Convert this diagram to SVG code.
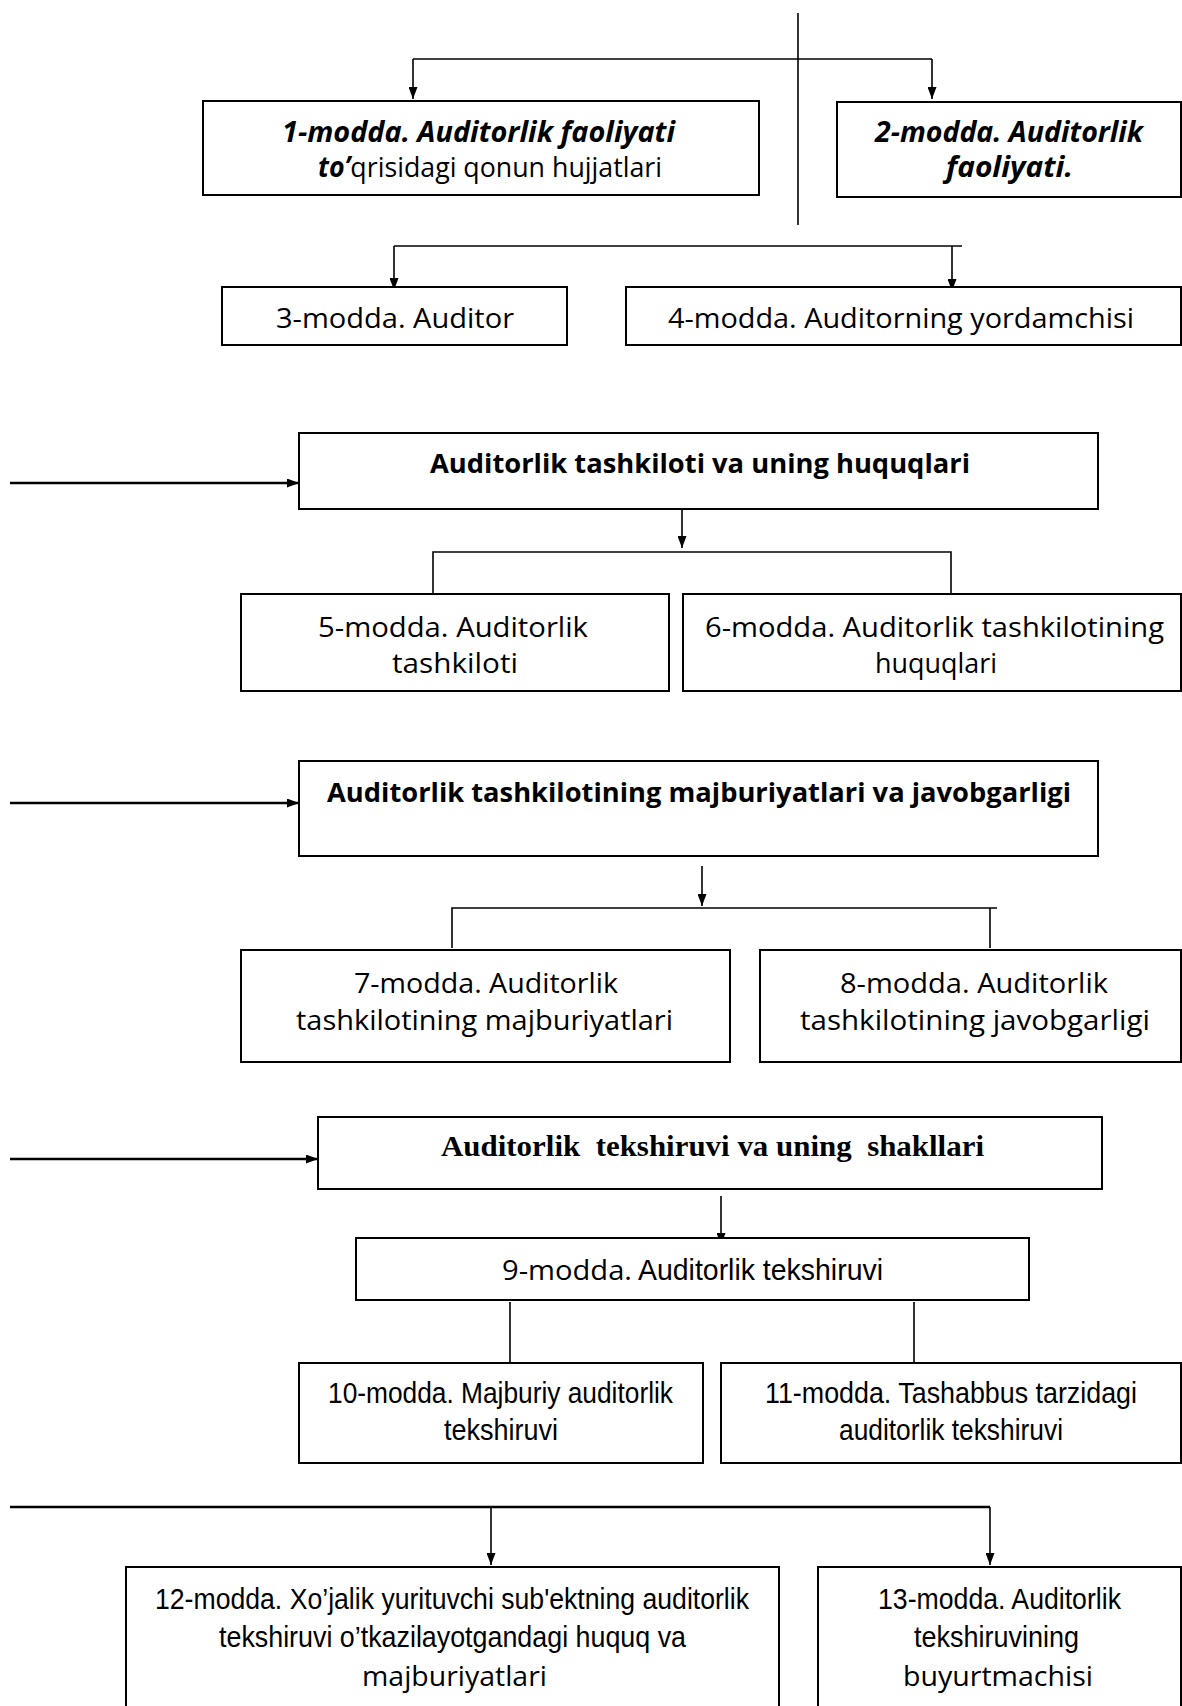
<svg xmlns="http://www.w3.org/2000/svg" width="1182" height="1706" viewBox="0 0 1182 1706">
<defs>
<marker id="ah" markerUnits="userSpaceOnUse" markerWidth="12" markerHeight="9" refX="12" refY="4.5" orient="auto" viewBox="0 0 12 9">
<path d="M0,0 L12,4.5 L0,9 z" fill="#000"/>
</marker>
<style>
.box{fill:#fff;stroke:#000;stroke-width:2}
.c{fill:none;stroke:#000;stroke-width:1.6}
.ct{fill:none;stroke:#000;stroke-width:2.6}
.t{font-family:"Open Sans","Noto Sans",sans-serif;font-size:28px;fill:#000}
.b{font-family:"Open Sans","Noto Sans",sans-serif;font-size:27px;font-weight:bold;fill:#000}
.bi{font-weight:bold;font-style:italic}
.n{font-family:"Liberation Sans Narrow","Liberation Sans",sans-serif;font-size:29px;fill:#000}
.s{font-family:"Liberation Serif",serif;font-size:30px;font-weight:bold;fill:#000;white-space:pre}
</style>
</defs>
<rect width="1182" height="1706" fill="#fff"/>
<g id="connectors">
<line class="c" x1="798" y1="13" x2="798" y2="225"/>
<path class="c" d="M413,59 H932"/>
<line class="c" x1="413" y1="59" x2="413" y2="99" marker-end="url(#ah)"/>
<line class="c" x1="932" y1="59" x2="932" y2="99" marker-end="url(#ah)"/>
<path class="c" d="M394,246 H962"/>
<line class="c" x1="394" y1="246" x2="394" y2="290" marker-end="url(#ah)"/>
<line class="c" x1="952" y1="246" x2="952" y2="291" marker-end="url(#ah)"/>
<line class="ct" x1="10" y1="483" x2="299" y2="483" marker-end="url(#ah)"/>
<line class="c" x1="682" y1="509" x2="682" y2="548" marker-end="url(#ah)"/>
<path class="c" d="M433,593 V552 H951 V593"/>
<line class="ct" x1="10" y1="803" x2="299" y2="803" marker-end="url(#ah)"/>
<line class="c" x1="702" y1="866" x2="702" y2="906" marker-end="url(#ah)"/>
<path class="c" d="M452,948 V908 H997"/>
<line class="c" x1="990" y1="908" x2="990" y2="948"/>
<line class="ct" x1="10" y1="1159" x2="318" y2="1159" marker-end="url(#ah)"/>
<line class="c" x1="721" y1="1196" x2="721" y2="1245" marker-end="url(#ah)"/>
<line class="c" x1="510" y1="1302" x2="510" y2="1362"/>
<line class="c" x1="914" y1="1302" x2="914" y2="1362"/>
<path class="ct" d="M10,1507 H990"/>
<line class="c" x1="491" y1="1507" x2="491" y2="1565" marker-end="url(#ah)"/>
<line class="c" x1="990" y1="1507" x2="990" y2="1565" marker-end="url(#ah)"/>
</g>
<g id="n1">
<rect class="box" x="203" y="101" width="556" height="94"/>
<text class="t bi" x="282" y="142" textLength="393" lengthAdjust="spacingAndGlyphs">1-modda. Auditorlik faoliyati</text>
<text class="t" x="318" y="177" textLength="344" lengthAdjust="spacingAndGlyphs"><tspan class="bi">to’</tspan>qrisidagi qonun hujjatlari</text>
</g>
<g id="n2">
<rect class="box" x="837" y="102" width="344" height="95"/>
<text class="t bi" x="875" y="142" textLength="268" lengthAdjust="spacingAndGlyphs">2-modda. Auditorlik</text>
<text class="t bi" x="946" y="177" textLength="127" lengthAdjust="spacingAndGlyphs">faoliyati.</text>
</g>
<g id="n3">
<rect class="box" x="222" y="287" width="345" height="58"/>
<text class="t" x="276" y="328" textLength="238" lengthAdjust="spacingAndGlyphs">3-modda. Auditor</text>
</g>
<g id="n4">
<rect class="box" x="626" y="287" width="555" height="58"/>
<text class="t" x="668" y="328" textLength="466" lengthAdjust="spacingAndGlyphs">4-modda. Auditorning yordamchisi</text>
</g>
<g id="h1">
<rect class="box" x="299" y="433" width="799" height="76"/>
<text class="b" x="430" y="473" textLength="540" lengthAdjust="spacingAndGlyphs">Auditorlik tashkiloti va uning huquqlari</text>
</g>
<g id="n5">
<rect class="box" x="241" y="594" width="428" height="97"/>
<text class="t" x="318" y="637" textLength="270" lengthAdjust="spacingAndGlyphs">5-modda. Auditorlik</text>
<text class="t" x="392" y="673" textLength="126" lengthAdjust="spacingAndGlyphs">tashkiloti</text>
</g>
<g id="n6">
<rect class="box" x="683" y="594" width="498" height="97"/>
<text class="t" x="705" y="637" textLength="459" lengthAdjust="spacingAndGlyphs">6-modda. Auditorlik tashkilotining</text>
<text class="t" x="875" y="673" textLength="122" lengthAdjust="spacingAndGlyphs">huquqlari</text>
</g>
<g id="h2">
<rect class="box" x="299" y="761" width="799" height="95"/>
<text class="b" x="327" y="802" textLength="744" lengthAdjust="spacingAndGlyphs">Auditorlik tashkilotining majburiyatlari va javobgarligi</text>
</g>
<g id="n7">
<rect class="box" x="241" y="950" width="489" height="112"/>
<text class="t" x="354" y="993" textLength="264" lengthAdjust="spacingAndGlyphs">7-modda. Auditorlik</text>
<text class="t" x="296" y="1030" textLength="377" lengthAdjust="spacingAndGlyphs">tashkilotining majburiyatlari</text>
</g>
<g id="n8">
<rect class="box" x="760" y="950" width="421" height="112"/>
<text class="t" x="840" y="993" textLength="268" lengthAdjust="spacingAndGlyphs">8-modda. Auditorlik</text>
<text class="t" x="800" y="1030" textLength="350" lengthAdjust="spacingAndGlyphs">tashkilotining javobgarligi</text>
</g>
<g id="h3">
<rect class="box" x="318" y="1117" width="784" height="72"/>
<text class="s" x="441" y="1156" textLength="543" lengthAdjust="spacingAndGlyphs">Auditorlik  tekshiruvi va uning  shakllari</text>
</g>
<g id="n9">
<rect class="box" x="356" y="1238" width="673" height="62"/>
<text class="t" x="502" y="1280" textLength="130" lengthAdjust="spacingAndGlyphs">9-modda.</text>
<text class="n" x="638" y="1280" textLength="245" lengthAdjust="spacingAndGlyphs">Auditorlik tekshiruvi</text>
</g>
<g id="n10">
<rect class="box" x="299" y="1363" width="404" height="100"/>
<text class="n" x="328" y="1403" textLength="345" lengthAdjust="spacingAndGlyphs">10-modda. Majburiy auditorlik</text>
<text class="n" x="444" y="1440" textLength="114" lengthAdjust="spacingAndGlyphs">tekshiruvi</text>
</g>
<g id="n11">
<rect class="box" x="721" y="1363" width="460" height="100"/>
<text class="n" x="765" y="1403" textLength="372" lengthAdjust="spacingAndGlyphs">11-modda. Tashabbus tarzidagi</text>
<text class="n" x="839" y="1440" textLength="224" lengthAdjust="spacingAndGlyphs">auditorlik tekshiruvi</text>
</g>
<g id="n12">
<rect class="box" x="126" y="1567" width="653" height="160"/>
<text class="n" x="155" y="1609" textLength="594" lengthAdjust="spacingAndGlyphs">12-modda. Xo’jalik yurituvchi sub'ektning auditorlik</text>
<text class="n" x="219" y="1647" textLength="467" lengthAdjust="spacingAndGlyphs">tekshiruvi o’tkazilayotgandagi huquq va</text>
<text class="t" x="362" y="1686" textLength="185" lengthAdjust="spacingAndGlyphs">majburiyatlari</text>
</g>
<g id="n13">
<rect class="box" x="818" y="1567" width="363" height="160"/>
<text class="n" x="878" y="1609" textLength="243" lengthAdjust="spacingAndGlyphs">13-modda. Auditorlik</text>
<text class="n" x="914" y="1647" textLength="165" lengthAdjust="spacingAndGlyphs">tekshiruvining</text>
<text class="t" x="903" y="1686" textLength="190" lengthAdjust="spacingAndGlyphs">buyurtmachisi</text>
</g>
</svg>
